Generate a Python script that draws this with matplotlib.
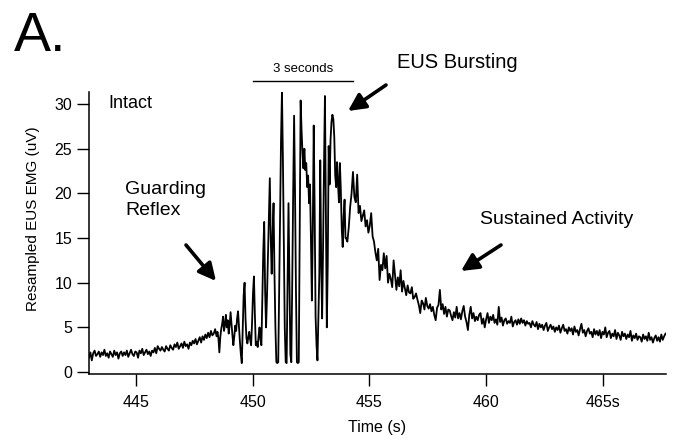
import matplotlib
matplotlib.use("Agg")
import matplotlib.pyplot as plt
import numpy as np

plt.rcParams.update({"font.family": ["Liberation Sans", "DejaVu Sans"], "font.size": 11})

W, H = 674, 443

baseline_start = 443.0
baseline_step = 0.06
baseline_uv = [
    1.6, 2.2, 1.3, 2.1, 2.4, 1.8, 2.0, 2.3, 1.7, 2.2, 1.9, 2.5, 1.8, 2.1, 1.6, 2.3, 2.0, 1.7, 2.4, 1.9, 2.2, 1.5, 2.1, 2.3, 1.8,
    2.2, 1.9, 2.4, 1.7, 2.1, 2.5, 2.0, 1.8, 2.3, 2.2, 1.6, 2.4, 2.1, 2.6, 1.9, 2.2, 2.5, 2.0, 2.3, 1.8, 2.4, 2.2, 2.7, 2.1, 2.9,
    2.6, 2.4, 2.8, 2.5, 2.3, 2.9, 2.6, 2.4, 3.0, 2.7, 2.5, 3.1, 2.8, 3.3, 2.6, 2.9, 3.2, 2.7, 3.4, 2.9, 3.1, 2.6, 3.3, 3.0, 3.5,
    3.2, 3.7, 3.1, 3.5, 3.9, 3.3, 4.0, 3.6, 4.2, 3.8, 4.4, 3.9, 4.6, 4.1, 4.3, 4.8, 4.0,
]

burst_start = 448.5
burst_step = 0.04
burst_uv = [
    4.5, 3.8, 2.2, 3.9, 4.8, 5.4, 6.2, 4.6, 5.3, 6.4,
    5.0, 5.8, 4.3, 5.2, 6.7, 5.4, 4.1, 3.0, 4.0, 5.2,
    4.6, 6.0, 6.8, 5.1, 3.4, 2.0, 1.0, 4.8, 8.6, 10.0,
    6.0, 3.8, 3.2, 3.9, 4.5, 3.6, 3.0, 5.5, 8.8, 10.7,
    6.5, 3.0, 3.4, 2.8, 4.0, 5.0, 3.6, 3.0, 8.0, 13.5,
    16.8, 9.0, 5.0, 8.5, 13.0, 17.5, 21.7, 15.0, 11.0, 15.5,
    18.9, 11.0, 5.0, 1.1, 1.0, 1.1, 9.0, 18.0, 26.0, 31.4,
    24.0, 14.0, 5.0, 1.1, 1.0, 9.5, 18.9, 10.0, 2.0, 1.1,
    10.0, 20.0, 28.7, 20.0, 9.0, 1.1, 1.0, 1.1, 16.0, 30.4,
    27.0, 24.5, 22.8, 25.0, 22.6, 23.4, 20.7, 22.0, 18.9, 21.0,
    15.0, 8.0, 16.0, 27.6, 18.0, 6.2, 3.0, 1.3, 6.0, 11.0,
    23.7, 12.0, 6.0, 14.0, 23.1, 30.9, 18.0, 5.0, 12.0, 25.3,
    21.0, 26.0, 28.0, 28.8, 28.3, 26.3, 22.0, 20.7, 23.5, 21.0,
    19.0, 23.4, 20.4, 16.0, 14.0, 17.4, 19.3, 15.0,
]

decay_start = 454.0
decay_step = 0.06
decay_uv = [
    15.0, 14.6, 16.2, 18.5, 20.0, 22.4, 19.6, 19.0, 22.1, 17.8,
    18.6, 16.9, 17.5, 18.1, 16.3, 17.0, 15.6, 16.4, 17.8, 15.2,
    14.6, 13.4, 12.5, 13.8, 10.3, 12.0, 11.4, 13.3, 11.6, 13.0,
    10.0, 11.0, 10.4, 9.5, 12.5, 10.8, 9.2, 10.6, 9.6, 11.4,
    9.0, 10.2, 9.4, 8.6, 9.7, 8.9, 8.8, 9.5, 8.2, 8.4,
    8.8, 8.1, 7.5, 6.6, 8.0, 7.7, 7.0, 8.3, 7.4, 7.1,
    7.6, 6.8, 7.3, 6.4, 5.8, 7.2, 7.5, 9.2, 7.0, 7.6,
    6.5, 7.3, 6.2, 7.0, 6.9, 6.3, 5.8, 6.7, 6.1, 7.3,
    6.0, 6.6, 5.9, 6.8, 7.4, 6.2, 5.6, 4.7, 6.4, 7.3,
    6.0, 6.6, 5.7, 6.2, 5.8, 6.4, 6.6, 5.4, 6.0, 5.0,
    5.9, 6.6, 5.5, 6.2, 5.8, 6.4, 5.5, 5.9, 5.3, 7.3,
    5.6, 6.1, 5.2, 5.8, 6.0, 5.4, 5.7, 5.5, 6.2, 5.1,
    5.6, 5.8, 5.3, 5.9, 5.4, 6.0, 5.5, 5.8, 5.2, 5.7,
    5.4, 5.5, 5.0, 5.7, 5.3, 5.1, 5.6, 4.8, 5.4, 5.0,
    5.3, 4.7, 5.2, 5.5, 4.6, 5.0, 5.3, 4.8, 5.1, 4.5,
    5.0, 4.7, 5.2, 4.4, 4.9, 5.3, 4.6, 4.8, 4.3, 5.0,
    4.6, 4.9, 4.2, 5.1, 4.5, 4.7, 4.1, 4.8, 5.4, 4.4,
    4.7, 4.0, 4.6, 4.9, 4.3, 4.5, 3.9, 4.8, 4.2, 4.6,
    4.1, 4.7, 3.8, 4.5, 4.2, 5.0, 3.9, 4.4, 4.6, 3.8,
    4.3, 4.0, 4.7, 3.7, 4.4, 4.1, 3.6, 4.5, 4.0, 4.3,
    3.7, 4.2, 3.9, 4.6, 3.5, 4.1, 3.8, 4.3, 3.6, 4.0,
    3.9, 3.4, 4.2, 3.7, 4.0, 3.5, 4.4, 3.6, 3.9, 3.3,
    3.8, 4.1, 3.5, 3.9, 3.4, 4.2, 3.6, 4.0, 4.3,
]

x_ticks = [445, 450, 455, 460, 465]
x_tick_labels = ["445", "450", "455", "460", "465s"]
y_ticks = [0, 5, 10, 15, 20, 25, 30]

scalebar_start = 450.0
scalebar_end = 454.3
scalebar_level = 32.6

segments = [
    (baseline_start, baseline_step, baseline_uv),
    (burst_start, burst_step, burst_uv),
    (decay_start, decay_step, decay_uv),
]
time = np.concatenate([s + d * np.arange(len(v)) for s, d, v in segments])
emg = np.concatenate([np.array(v) for _, _, v in segments])


def fx(px):
    return px / W


def fy(py):
    return 1 - py / H


fig = plt.figure(figsize=(W / 100, H / 100), dpi=100)
ax = fig.add_axes([fx(89), fy(374), (666 - 89) / W, (374 - 92) / H])

ax.plot(time, emg, color="black", lw=1.3)

ax.set_xlim(443.0, 467.7)
ax.set_ylim(-0.22, 31.35)
ax.set_xticks(x_ticks)
ax.set_xticklabels(x_tick_labels)
ax.set_yticks(y_ticks)
for side in ["top", "right"]:
    ax.spines[side].set_visible(False)
for side in ["left", "bottom"]:
    ax.spines[side].set_linewidth(1.1)
ax.tick_params(direction="out", length=8.5, width=1.0, labelsize=11.5)
ax.tick_params(axis="y", pad=3.5)
ax.tick_params(axis="x", pad=6.5)

ax.set_ylabel("Resampled EUS EMG (uV)", fontsize=11, va="center")
ax.yaxis.set_label_coords(-0.097, 0.55)
ax.set_xlabel("Time (s)", fontsize=11.5, va="center")
ax.xaxis.set_label_coords(0.5, -0.188)

# 3 second scale bar above the burst
ax.plot([scalebar_start, scalebar_end], [scalebar_level, scalebar_level],
        color="black", lw=1.0, clip_on=False)
ax.text((scalebar_start + scalebar_end) / 2, scalebar_level + 0.6, "3 seconds",
        fontsize=9.5, ha="center", va="bottom")

fig.text(fx(14), fy(37), "A.", fontsize=40, ha="left", va="center")
fig.text(fx(108), fy(104), "Intact", fontsize=13, ha="left", va="center")
fig.text(fx(397), fy(62), "EUS Bursting", fontsize=14.5, ha="left", va="center")
fig.text(fx(125), fy(200), "Guarding\nReflex", fontsize=14, ha="left", va="center",
         linespacing=1.3)
fig.text(fx(480), fy(219), "Sustained Activity", fontsize=14, ha="left", va="center")

arrow = dict(arrowstyle="-|>", color="black", lw=2.6, mutation_scale=26,
             shrinkA=0, shrinkB=0)
for tail, tip in [((386, 85), (348, 111)),
                  ((186, 245), (216, 281)),
                  ((501, 245), (461, 271))]:
    ax.annotate("", xy=(fx(tip[0]), fy(tip[1])), xycoords="figure fraction",
                xytext=(fx(tail[0]), fy(tail[1])), textcoords="figure fraction",
                arrowprops=arrow)

fig.savefig("out.png", dpi=100, facecolor="white")
